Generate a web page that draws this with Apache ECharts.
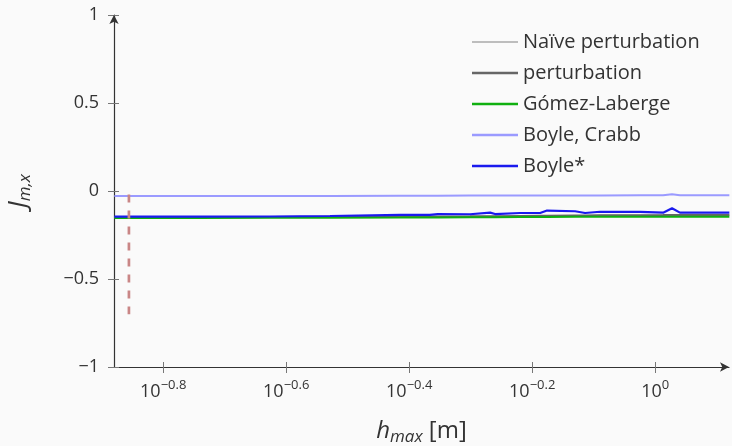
<!DOCTYPE html>
<html>
<head>
<meta charset="utf-8">
<script src="https://cdn.jsdelivr.net/npm/echarts@6/dist/echarts.min.js"></script>
<style>
    html, body { margin: 0; padding: 0; background: #fafafa; }
    #chart { width: 732px; height: 446px; }
</style>
</head>
<body>
<div id="chart"></div>
<script>
// mesh size h_max [m]
var hValues = [0.132, 0.18, 0.236, 0.296, 0.385, 0.43, 0.443, 0.5, 0.539, 0.549, 0.603,
    0.65, 0.667, 0.741, 0.769, 0.813, 0.945, 1.03, 1.065, 1.097, 1.2, 1.32];

var naivePert = [-0.149, -0.149, -0.148, -0.147, -0.146, -0.145, -0.145, -0.144, -0.143, -0.143, -0.142,
    -0.141, -0.141, -0.139, -0.139, -0.138, -0.138, -0.137, -0.136, -0.137, -0.137, -0.137];
var pert = [-0.149, -0.149, -0.148, -0.147, -0.146, -0.145, -0.145, -0.144, -0.143, -0.143, -0.142,
    -0.141, -0.141, -0.139, -0.139, -0.138, -0.138, -0.137, -0.136, -0.137, -0.137, -0.137];
var gomez = [-0.153, -0.153, -0.152, -0.152, -0.151, -0.150, -0.150, -0.149, -0.149, -0.149, -0.148,
    -0.148, -0.148, -0.147, -0.147, -0.147, -0.146, -0.146, -0.146, -0.146, -0.146, -0.146];
var boyleCrabb = [-0.029, -0.029, -0.028, -0.028, -0.027, -0.027, -0.027, -0.026, -0.026, -0.026, -0.026,
    -0.025, -0.025, -0.025, -0.025, -0.025, -0.024, -0.024, -0.019, -0.024, -0.024, -0.024];
var boyleStar = [-0.146, -0.146, -0.145, -0.142, -0.136, -0.136, -0.131, -0.132, -0.123, -0.131, -0.125,
    -0.125, -0.111, -0.115, -0.125, -0.118, -0.119, -0.123, -0.098, -0.123, -0.123, -0.123];

// vertical dashed marker
var markerH = [0.1394, 0.1394];
var markerJ = [-0.02, -0.70];

var xTicks = [-0.8, -0.6, -0.4, -0.2, 0];
var legendNames = ['Naïve perturbation', 'perturbation', 'Gómez-Laberge', 'Boyle, Crabb', 'Boyle*'];

var fontFam = '"Open Sans", "DejaVu Sans", sans-serif';
var textCol = '#333';

function pairs(xs, ys) {
    var out = [];
    for (var i = 0; i < xs.length; i++) {
        out.push([Math.log10(xs[i]), ys[i]]);
    }
    return out;
}

function lineSeries(name, ys, color, width) {
    return {
        name: name,
        type: 'line',
        data: pairs(hValues, ys),
        symbol: 'none',
        lineStyle: { color: color, width: width },
        itemStyle: { color: color }
    };
}

var chart = echarts.init(document.getElementById('chart'));

var option = {
    animation: false,
    backgroundColor: '#fafafa',
    textStyle: { fontFamily: fontFam, color: textCol },
    grid: { left: 114, right: 3, top: 15, bottom: 79, outerBoundsMode: 'none', containLabel: false },
    legend: {
        data: [
            { name: legendNames[0], icon: 'path://M0,0.35 L10,0.35 L10,0.65 L0,0.65 Z' },
            { name: legendNames[1] },
            { name: legendNames[2] },
            { name: legendNames[3] },
            { name: legendNames[4] }
        ],
        orient: 'vertical',
        left: 472,
        top: 30,
        padding: 0,
        icon: 'path://M0,0.25 L10,0.25 L10,0.75 L0,0.75 Z',
        itemWidth: 46,
        itemHeight: 4,
        itemGap: 7,
        textStyle: { fontSize: 20, lineHeight: 24, color: textCol, fontFamily: fontFam }
    },
    xAxis: [{
        type: 'value',
        min: -0.88,
        max: 0.12,
        splitLine: { show: false },
        axisLine: {
            onZero: false,
            symbol: ['none', 'arrow'],
            symbolSize: [7, 9],
            lineStyle: { color: '#333', width: 1.2 }
        },
        axisTick: { customValues: xTicks, length: 6, lineStyle: { color: '#777' } },
        axisLabel: {
            customValues: xTicks,
            margin: 12,
            formatter: function (v) {
                var e = v === 0 ? '0' : '−' + Math.abs(v).toFixed(1);
                return '{b|10}{s|' + e + '}';
            },
            rich: {
                b: { fontSize: 18, lineHeight: 26, color: textCol, fontFamily: fontFam },
                s: { fontSize: 13, lineHeight: 14, verticalAlign: 'top', color: textCol, fontFamily: fontFam }
            }
        },
        name: '{h|h}{s|max}{n| [m]}',
        nameLocation: 'middle',
        nameGap: 49,
        nameTextStyle: {
            rich: {
                h: { fontSize: 24, fontStyle: 'italic', lineHeight: 30, color: textCol, fontFamily: fontFam },
                s: { fontSize: 17, fontStyle: 'italic', lineHeight: 16, verticalAlign: 'bottom', color: textCol, fontFamily: fontFam },
                n: { fontSize: 24, lineHeight: 30, color: textCol, fontFamily: fontFam }
            }
        }
    }, {
        // inner half of the tick marks
        type: 'value',
        position: 'bottom',
        min: -0.88,
        max: 0.12,
        splitLine: { show: false },
        axisLine: { show: false, onZero: false },
        axisLabel: { show: false },
        axisTick: { customValues: xTicks, inside: true, length: 5, lineStyle: { color: '#777' } }
    }],
    yAxis: [{
        type: 'value',
        min: -1,
        max: 1,
        interval: 0.5,
        splitLine: { show: false },
        axisLine: {
            show: true,
            onZero: false,
            symbol: ['none', 'arrow'],
            symbolSize: [7, 9],
            lineStyle: { color: '#333', width: 1.2 }
        },
        axisTick: { show: true, length: 6, lineStyle: { color: '#777' } },
        axisLabel: {
            fontSize: 18,
            margin: 15,
            color: textCol,
            formatter: function (v) {
                return v < 0 ? '−' + Math.abs(v) : String(v);
            }
        },
        name: '{j|J}{s|m,x}',
        nameLocation: 'middle',
        nameRotate: 90,
        nameGap: 80,
        nameTextStyle: {
            rich: {
                j: { fontSize: 25, fontStyle: 'italic', lineHeight: 30, color: textCol, fontFamily: fontFam },
                s: { fontSize: 17, fontStyle: 'italic', lineHeight: 16, verticalAlign: 'bottom', color: textCol, fontFamily: fontFam }
            }
        }
    }, {
        type: 'value',
        position: 'left',
        min: -1,
        max: 1,
        interval: 0.5,
        splitLine: { show: false },
        axisLine: { show: false, onZero: false },
        axisLabel: { show: false },
        axisTick: { show: true, inside: true, length: 5, lineStyle: { color: '#777' } }
    }],
    series: [
        lineSeries('Naïve perturbation', naivePert, '#a8a8a8', 1),
        lineSeries('perturbation', pert, '#666666', 2),
        lineSeries('Gómez-Laberge', gomez, '#10b010', 2),
        lineSeries('Boyle, Crabb', boyleCrabb, '#9a9aff', 2),
        lineSeries('Boyle*', boyleStar, '#1a1aee', 2.2),
        {
            name: 'marker',
            type: 'line',
            data: pairs(markerH, markerJ),
            symbol: 'none',
            lineStyle: { color: '#c98686', width: 2.7, type: [8, 8] }
        }
    ]
};

chart.setOption(option);
</script>
</body>
</html>
